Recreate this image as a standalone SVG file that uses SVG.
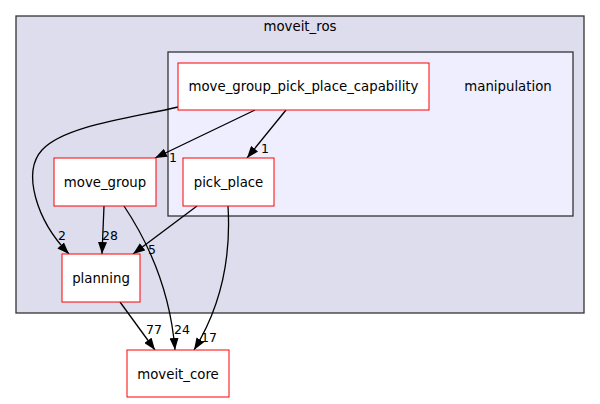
<svg xmlns="http://www.w3.org/2000/svg" width="600" height="404" viewBox="0 0 600 404">
<style>
text{font-family:"DejaVu Sans","Liberation Sans",sans-serif;fill:#000}
.n{font-size:13.3px;text-anchor:middle}
.l{font-size:12.5px;text-anchor:middle}
.node rect{fill:#fff;stroke:#ff0000;stroke-width:1}
.cl{stroke:#333;stroke-width:1.3}
.e{fill:none;stroke:#000;stroke-width:1.3}
</style>
<defs>
<marker id="a" viewBox="0 0 12 9" refX="12" refY="4.5" markerWidth="12" markerHeight="9" markerUnits="userSpaceOnUse" orient="auto">
<path d="M0,0L12,4.5L0,9Z" fill="#000"/>
</marker>
</defs>
<g id="cluster_moveit_ros">
<rect class="cl" x="16" y="16" width="568" height="297" fill="#ddddee"/>
<text class="n" x="300" y="31">moveit_ros</text>
</g>
<g id="cluster_manipulation">
<rect class="cl" x="168" y="52" width="405" height="164" fill="#eeeeff"/>
<text class="n" x="508" y="90.5">manipulation</text>
</g>
<g id="edges">
<path class="e" marker-end="url(#a)" d="M255,110L155,158"/>
<path class="e" marker-end="url(#a)" d="M286,110L247,158"/>
<path class="e" marker-end="url(#a)" d="M178,107C137,117 65,125 42,150C22,172 36,220 69,254"/>
<path class="e" marker-end="url(#a)" d="M104,206L102,254"/>
<path class="e" marker-end="url(#a)" d="M124,206C148,242 170,288 175,350"/>
<path class="e" marker-end="url(#a)" d="M197,206L133,254"/>
<path class="e" marker-end="url(#a)" d="M228,206C231,255 222,305 194,350"/>
<path class="e" marker-end="url(#a)" d="M120,302L155,350"/>
<text class="l" x="173" y="162">1</text>
<text class="l" x="265" y="153">1</text>
<text class="l" x="62" y="240">2</text>
<text class="l" x="110" y="240">28</text>
<text class="l" x="152" y="254">5</text>
<text class="l" x="182" y="334">24</text>
<text class="l" x="154" y="334">77</text>
<text class="l" x="209" y="342">17</text>
</g>
<g id="node_mgppc" class="node">
<rect x="178" y="63" width="251" height="47"/>
<text class="n" x="303.5" y="90.5">move_group_pick_place_capability</text>
</g>
<g id="node_move_group" class="node">
<rect x="54" y="158" width="102" height="48"/>
<text class="n" x="105" y="186.5">move_group</text>
</g>
<g id="node_pick_place" class="node">
<rect x="183" y="158" width="91" height="48"/>
<text class="n" x="228.5" y="186.5">pick_place</text>
</g>
<g id="node_planning" class="node">
<rect x="62" y="254" width="78" height="48"/>
<text class="n" x="101" y="282.5">planning</text>
</g>
<g id="node_moveit_core" class="node">
<rect x="127" y="350" width="102" height="47"/>
<text class="n" x="178" y="378.5">moveit_core</text>
</g>
</svg>
